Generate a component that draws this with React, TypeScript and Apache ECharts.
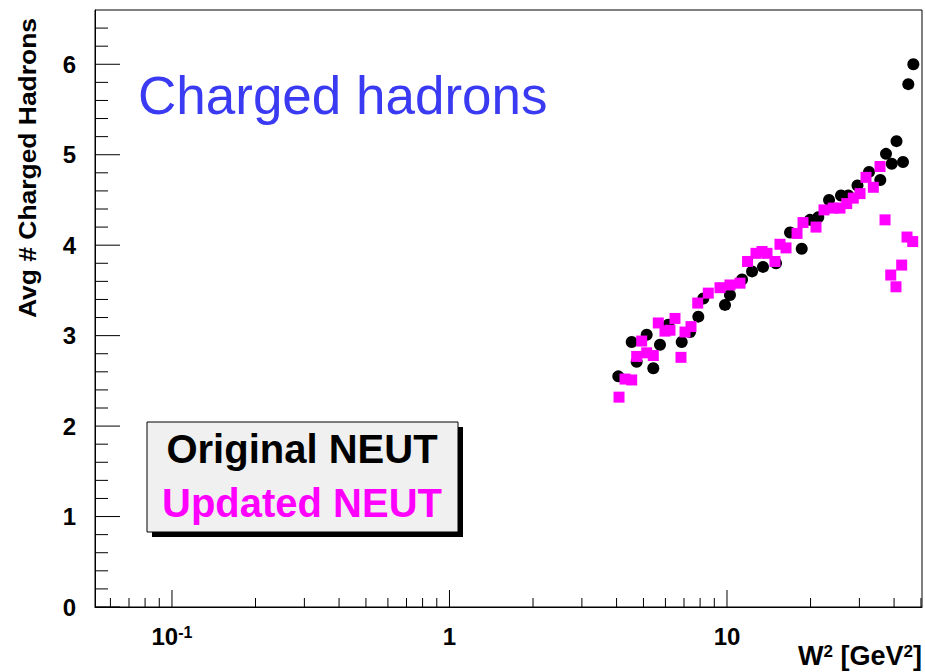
import React, { useEffect, useRef } from "react";
import * as echarts from "echarts";

// Original NEUT (black circles): W^2 [GeV^2] and average charged hadron multiplicity
const originalW2 = [4.058, 4.535, 4.727, 5.136, 5.425, 5.735, 6.144, 6.867, 7.357, 7.883, 8.216, 9.835, 10.25, 11.33, 12.31, 13.48, 15.02, 16.87, 18.59, 19.91, 21.33, 23.32, 25.75, 27.36, 29.53, 32.49, 35.68, 37.41, 39.23, 40.82, 43.07, 45.01, 46.93];
const originalN = [2.55, 2.93, 2.71, 3.01, 2.64, 2.90, 3.12, 2.93, 3.04, 3.21, 3.41, 3.34, 3.45, 3.62, 3.71, 3.76, 3.80, 4.14, 3.96, 4.28, 4.31, 4.50, 4.55, 4.55, 4.66, 4.81, 4.72, 5.01, 4.90, 5.15, 4.92, 5.78, 6.00];

// Updated NEUT (magenta squares)
const updatedW2 = [4.082, 4.290, 4.535, 4.727, 4.927, 5.136, 5.425, 5.655, 5.978, 6.231, 6.495, 6.827, 7.058, 7.418, 7.843, 8.561, 9.436, 10.25, 11.14, 11.86, 12.72, 13.37, 13.94, 14.89, 15.52, 16.32, 17.88, 18.79, 20.93, 22.36, 24.16, 25.54, 27.00, 28.52, 30.16, 31.69, 33.68, 35.60, 37.11, 38.91, 40.64, 42.61, 44.53, 46.69];
const updatedN = [2.32, 2.52, 2.51, 2.77, 2.94, 2.81, 2.78, 3.14, 3.05, 3.06, 3.19, 2.76, 3.04, 3.10, 3.36, 3.47, 3.53, 3.56, 3.58, 3.82, 3.91, 3.93, 3.91, 3.82, 4.01, 3.97, 4.13, 4.25, 4.20, 4.39, 4.41, 4.41, 4.46, 4.52, 4.57, 4.75, 4.64, 4.87, 4.28, 3.67, 3.54, 3.78, 4.09, 4.04];

// Axis ranges and ticks
const xMin = 0.0528;
const xMax = 50.43;
const yMin = 0;
const yMax = 6.6;
const xMajorTicks = [0.1, 1, 10];
const xMinorTicks = [0.06, 0.07, 0.08, 0.09, 0.2, 0.3, 0.4, 0.5, 0.6, 0.7, 0.8, 0.9, 2, 3, 4, 5, 6, 7, 8, 9, 20, 30, 40, 50];
const yMajorTicks = [0, 1, 2, 3, 4, 5, 6];
const yMinorTicks = [0.2, 0.4, 0.6, 0.8, 1.2, 1.4, 1.6, 1.8, 2.2, 2.4, 2.6, 2.8, 3.2, 3.4, 3.6, 3.8, 4.2, 4.4, 4.6, 4.8, 5.2, 5.4, 5.6, 5.8, 6.2, 6.4];

const FONT = "'Liberation Sans', Arial, Helvetica, sans-serif";

export default function App() {
  const ref = useRef<HTMLDivElement>(null);

  useEffect(() => {
    if (!ref.current) return;
    const chart = echarts.init(ref.current, undefined, { renderer: "svg" });

    const tickSeries = (
      name: string,
      data: number[][],
      horizontal: boolean,
      len: number
    ) => ({
      type: "custom",
      name,
      silent: true,
      clip: false,
      z: 1,
      data,
      renderItem: (_params: any, api: any) => {
        const p = api.coord([api.value(0), api.value(1)]);
        const shape = horizontal
          ? { x1: p[0], y1: p[1], x2: p[0] + len, y2: p[1] }
          : { x1: p[0], y1: p[1], x2: p[0], y2: p[1] - len };
        return {
          type: "line",
          shape,
          style: { stroke: "#000", lineWidth: 1 },
        };
      },
    });

    const isPow10 = (v: number) => {
      const l = Math.log10(v);
      return Math.abs(l - Math.round(l)) < 1e-6;
    };

    chart.setOption({
      animation: false,
      backgroundColor: "#ffffff",
      grid: {
        left: 95,
        right: 3,
        top: 10,
        bottom: 65,
        show: true,
        borderColor: "#000",
        borderWidth: 1,
        backgroundColor: "transparent",
      },
      xAxis: {
        type: "log",
        logBase: 10,
        min: xMin,
        max: xMax,
        axisLine: { show: true, onZero: false, lineStyle: { color: "#000", width: 1 } },
        axisTick: { show: false },
        minorTick: { show: false },
        splitLine: { show: false },
        minorSplitLine: { show: false },
        axisLabel: {
          showMinLabel: false,
          showMaxLabel: false,
          margin: 17,
          color: "#000",
          fontFamily: FONT,
          fontWeight: "bold",
          fontSize: 24,
          formatter: (v: number) => {
            if (!isPow10(v)) return "";
            const e = Math.round(Math.log10(v));
            if (e === 0) return "{b|1}";
            if (e === 1) return "{b|10}";
            return "{b|10}{s|" + e + "}";
          },
          rich: {
            b: { fontFamily: FONT, fontWeight: "bold", fontSize: 24, color: "#000" },
            s: {
              fontFamily: FONT,
              fontWeight: "bold",
              fontSize: 16,
              color: "#000",
              verticalAlign: "top",
              padding: [0, 0, 9, 0],
            },
          },
        },
      },
      yAxis: {
        type: "value",
        min: yMin,
        max: yMax,
        interval: 1,
        axisLine: { show: true, onZero: false, lineStyle: { color: "#000", width: 1 } },
        axisTick: { show: false },
        minorTick: { show: false },
        splitLine: { show: false },
        axisLabel: {
          showMaxLabel: false,
          margin: 19,
          color: "#000",
          fontFamily: FONT,
          fontWeight: "bold",
          fontSize: 24,
          formatter: (v: number) => (Math.abs(v - Math.round(v)) < 1e-6 ? String(Math.round(v)) : ""),
        },
      },
      series: [
        tickSeries("xMajor", xMajorTicks.map((v) => [v, yMin]), false, 17),
        tickSeries("xMinor", xMinorTicks.map((v) => [v, yMin]), false, 9),
        tickSeries("yMajor", yMajorTicks.map((v) => [xMin, v]), true, 25),
        tickSeries("yMinor", yMinorTicks.map((v) => [xMin, v]), true, 13),
        {
          type: "scatter",
          name: "Original NEUT",
          symbol: "circle",
          symbolSize: 12,
          itemStyle: { color: "#000000", opacity: 1 },
          z: 3,
          data: originalW2.map((x, i) => [x, originalN[i]]),
        },
        {
          type: "scatter",
          name: "Updated NEUT",
          symbol: "rect",
          symbolSize: 11,
          itemStyle: { color: "#ff00ff", opacity: 1 },
          z: 4,
          data: updatedW2.map((x, i) => [x, updatedN[i]]),
        },
      ],
      graphic: [
        {
          type: "text",
          x: 138,
          y: 95,
          style: {
            text: "Charged hadrons",
            fontFamily: FONT,
            fontSize: 53,
            fill: "#3a3af2",
            verticalAlign: "middle",
          },
          z: 10,
        },
        {
          type: "text",
          x: 28,
          y: 168,
          rotation: Math.PI / 2,
          style: {
            text: "Avg # Charged Hadrons",
            fontFamily: FONT,
            fontWeight: "bold",
            fontSize: 23,
            fill: "#000",
            align: "center",
            verticalAlign: "middle",
          },
          scaleX: 1.15,
          z: 10,
        },
        {
          type: "text",
          x: 922,
          y: 656,
          style: {
            text: "{b|W}{s|2}{b| [GeV}{s|2}{b|]}",
            align: "right",
            verticalAlign: "middle",
            rich: {
              b: { fontFamily: FONT, fontWeight: "bold", fontSize: 27, fill: "#000" },
              s: { fontFamily: FONT, fontWeight: "bold", fontSize: 17, fill: "#000", verticalAlign: "top", padding: [0, 0, 10, 0] },
            },
          },
          z: 10,
        },
        {
          type: "rect",
          shape: { x: 152, y: 427, width: 311, height: 110 },
          style: { fill: "#000" },
          z: 20,
        },
        {
          type: "rect",
          shape: { x: 147, y: 422, width: 311, height: 110 },
          style: { fill: "#f0f0f0", stroke: "#000", lineWidth: 1 },
          z: 21,
        },
        {
          type: "text",
          x: 302,
          y: 449,
          style: {
            text: "Original NEUT",
            fontFamily: FONT,
            fontWeight: "bold",
            fontSize: 40,
            fill: "#000",
            align: "center",
            verticalAlign: "middle",
          },
          z: 22,
        },
        {
          type: "text",
          x: 302,
          y: 503,
          style: {
            text: "Updated NEUT",
            fontFamily: FONT,
            fontWeight: "bold",
            fontSize: 40,
            fill: "#ff00ff",
            align: "center",
            verticalAlign: "middle",
          },
          z: 22,
        },
      ],
    });

    return () => chart.dispose();
  }, []);

  return (
    <div
      ref={ref}
      style={{ position: "fixed", left: 0, top: 0, width: 925, height: 672, background: "#fff" }}
    />
  );
}
